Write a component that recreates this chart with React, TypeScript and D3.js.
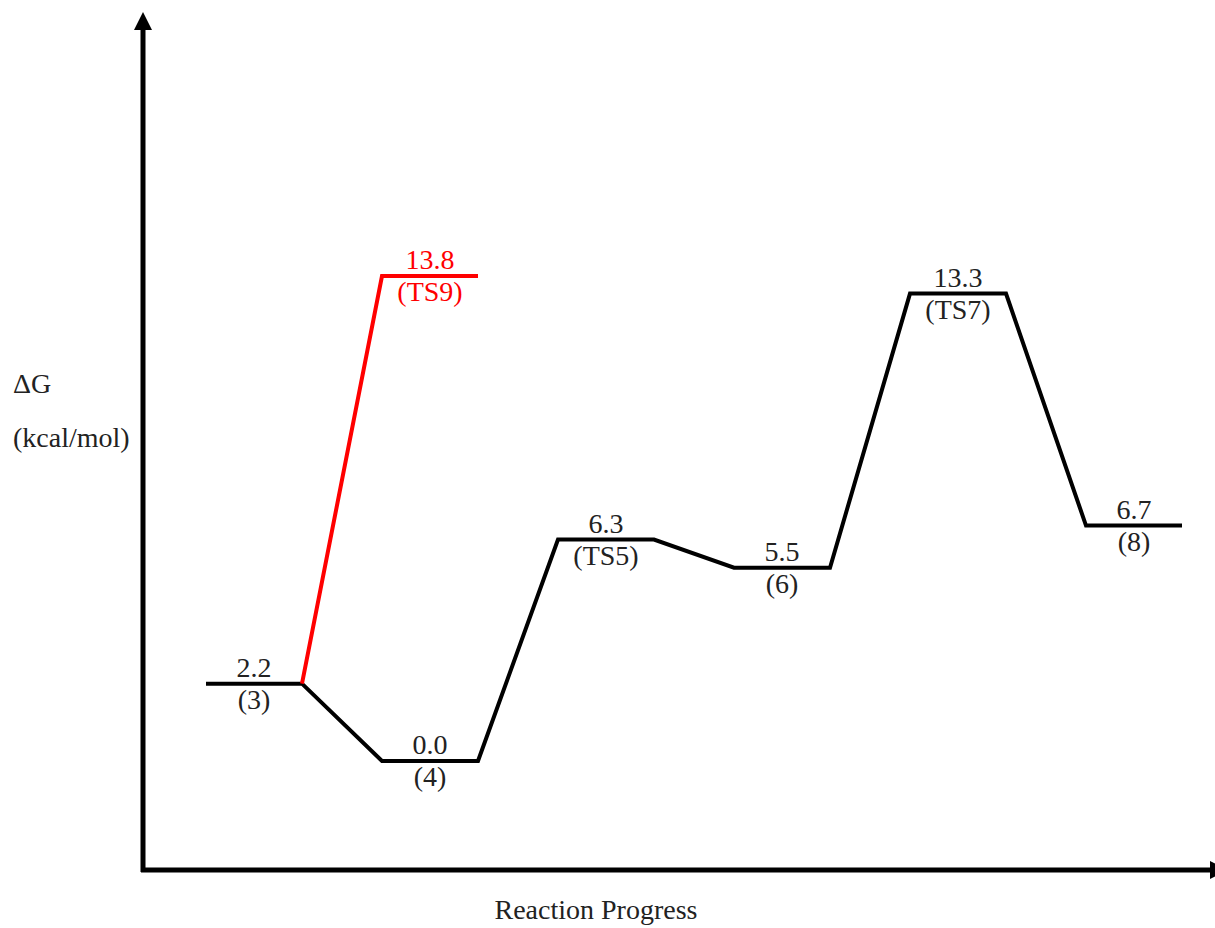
import React from "react";
import * as d3 from "d3";

// Free-energy profile: stationary points along the reaction coordinate
const steps = ["(3)", "(4)", "(TS5)", "(6)", "(TS7)", "(8)"];
const energies = [2.2, 0.0, 6.3, 5.5, 13.3, 6.7];
const valueLabels = ["2.2", "0.0", "6.3", "5.5", "13.3", "6.7"];

// Competing pathway from (3) through TS9
const altFromIndex = 0;
const altSlot = 1;
const altName = "(TS9)";
const altEnergy = 13.8;
const altLabel = "13.8";

const W = 1215;
const H = 928;
const font = "Liberation Serif";
const fs = 28;

export default function App() {
  const x = d3.scalePoint<number>().domain(d3.range(steps.length)).range([254, 1134]);
  const y = d3.scaleLinear().domain([0, 13.8]).range([761, 276]);
  const half = 48;

  const mainPts: [number, number][] = [];
  energies.forEach((e, i) => {
    const cx = x(i)!;
    mainPts.push([cx - half, y(e)]);
    mainPts.push([cx + half, y(e)]);
  });
  const line = d3.line();

  const altPts: [number, number][] = [
    [x(altFromIndex)! + half, y(energies[altFromIndex])],
    [x(altSlot)! - half, y(altEnergy)],
    [x(altSlot)! + half, y(altEnergy)],
  ];

  const axisX = 143;
  const axisY = 870;

  return (
    <svg width={W} height={H} style={{ position: "absolute", left: 0, top: 0, background: "#fff" }}>
      {/* axes */}
      <line x1={axisX} y1={axisY + 2} x2={axisX} y2={28} stroke="#000" strokeWidth={5} />
      <path d={`M${axisX - 9},30 L${axisX},12 L${axisX + 9},30 Z`} fill="#000" />
      <line x1={axisX - 2} y1={axisY} x2={1212} y2={axisY} stroke="#000" strokeWidth={5} />
      <path d={`M1210,${axisY - 9} L1228,${axisY} L1210,${axisY + 9} Z`} fill="#000" />

      {/* axis titles */}
      <text x={13} y={393} fontFamily={font} fontSize={fs} fill="#222">ΔG</text>
      <text x={13} y={447} fontFamily={font} fontSize={fs} fill="#222">(kcal/mol)</text>
      <text x={596} y={919} fontFamily={font} fontSize={fs} fill="#222" textAnchor="middle">
        Reaction Progress
      </text>

      {/* main pathway */}
      <path d={line(mainPts)!} fill="none" stroke="#000" strokeWidth={4} strokeLinejoin="miter" />
      {/* alternative pathway */}
      <path d={line(altPts)!} fill="none" stroke="#ff0000" strokeWidth={4} strokeLinejoin="miter" />

      {/* labels */}
      {energies.map((e, i) => (
        <g key={i} fontFamily={font} fontSize={fs} fill="#222" textAnchor="middle">
          <text x={x(i)!} y={y(e) - 7}>{valueLabels[i]}</text>
          <text x={x(i)!} y={y(e) + 25}>{steps[i]}</text>
        </g>
      ))}
      <g fontFamily={font} fontSize={fs} fill="#ff0000" textAnchor="middle">
        <text x={x(altSlot)!} y={y(altEnergy) - 7}>{altLabel}</text>
        <text x={x(altSlot)!} y={y(altEnergy) + 25}>{altName}</text>
      </g>
    </svg>
  );
}
